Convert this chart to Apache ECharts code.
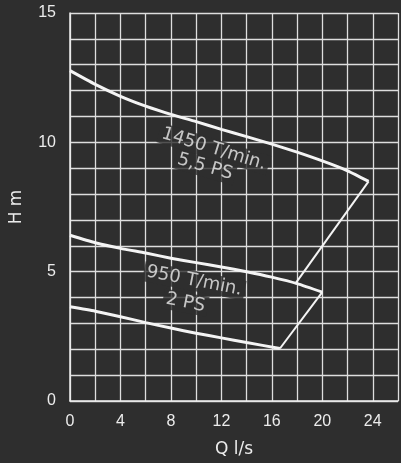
<!DOCTYPE html>
<html>
<head>
<meta charset="utf-8">
<script src="https://cdn.jsdelivr.net/npm/echarts@6/dist/echarts.min.js"></script>
<style>
html,body{margin:0;padding:0;background:#2e2e2e;}
#c{width:401px;height:463px;}
</style>
</head>
<body>
<div id="c"></div>
<script>
// Pump curves (Q in l/s, H in m)
const q1450 = [0, 2, 4, 6, 8, 10, 12, 14, 16, 18, 20, 22, 23.67];
const h1450 = [12.77, 12.24, 11.78, 11.40, 11.08, 10.80, 10.50, 10.22, 9.93, 9.62, 9.28, 8.90, 8.49];
const q950 = [0, 2, 4, 6, 8, 10, 12, 14, 16, 18, 20];
const h950 = [6.41, 6.12, 5.90, 5.72, 5.52, 5.35, 5.18, 5.00, 4.79, 4.54, 4.21];
const qLow = [0, 2, 4, 6, 8, 10, 12, 14, 16.64];
const hLow = [3.64, 3.47, 3.26, 3.03, 2.82, 2.62, 2.44, 2.26, 2.03];
// Limit lines connecting curve ends
const limitA_Q = [23.67, 17.85];
const limitA_H = [8.49, 4.53];
const limitB_Q = [20.0, 16.64];
const limitB_H = [4.21, 2.03];
// Curve labels
const labelTexts = ['1450 T/min.', '5,5 PS', '950 T/min.', '2 PS'];
const labelQ = [11.4, 10.7, 9.85, 9.15];
const labelH = [9.74, 9.05, 4.64, 3.80];
const labelRot = [-17, -16, -11, -11];
// Axis ticks
const xTickLabels = [0, 4, 8, 12, 16, 20, 24];
const yTickLabels = [0, 5, 10, 15];

const zip = (a, b) => a.map((v, i) => [v, b[i]]);
const fg = '#ececec';
const chart = echarts.init(document.getElementById('c'), null, {renderer: 'canvas'});
chart.setOption({
  backgroundColor: '#2e2e2e',
  animation: false,
  grid: {left: 67, top: 13, width: 336, height: 391},
  xAxis: {
    type: 'value', min: 0, max: 26, interval: 2,
    name: 'Q l/s', nameLocation: 'middle', nameGap: 40,
    nameTextStyle: {color: fg, fontFamily: 'DejaVu Sans', fontSize: 17},
    axisLine: {show: true, lineStyle: {color: fg, width: 1.5}},
    axisTick: {show: false},
    axisLabel: {color: fg, fontFamily: 'Liberation Sans', fontSize: 16, margin: 13,
      formatter: v => xTickLabels.includes(v) ? String(v) : ''},
    splitLine: {show: true, lineStyle: {color: '#dedede', width: 1.3}}
  },
  yAxis: {
    type: 'value', min: 0, max: 15, interval: 1,
    name: 'H m', nameLocation: 'middle', nameGap: 45, nameRotate: 90,
    nameTextStyle: {color: fg, fontFamily: 'DejaVu Sans', fontSize: 17},
    axisLine: {show: true, lineStyle: {color: fg, width: 1.5}},
    axisTick: {show: false},
    axisLabel: {color: fg, fontFamily: 'Liberation Sans', fontSize: 16, margin: 14,
      formatter: v => yTickLabels.includes(v) ? String(v) : ''},
    splitLine: {show: true, lineStyle: {color: '#dedede', width: 1.3}}
  },
  series: [
    {type: 'scatter', z: 3, symbolSize: 0, silent: true,
      data: labelTexts.map((t, i) => ({value: [labelQ[i], labelH[i]], name: t,
        label: {rotate: labelRot[i]}})),
      label: {show: true, position: 'inside', formatter: p => p.name,
        color: fg, fontFamily: 'DejaVu Sans', fontSize: 18,
        backgroundColor: '#2e2e2e', padding: [1, 3]}},
    {type: 'line', z: 5, data: zip(q1450, h1450), smooth: 0.2, showSymbol: false, symbol: 'none',
      lineStyle: {color: '#f4f4f4', width: 3}},
    {type: 'line', z: 5, data: zip(q950, h950), smooth: 0.2, showSymbol: false, symbol: 'none',
      lineStyle: {color: '#f4f4f4', width: 3}},
    {type: 'line', z: 5, data: zip(qLow, hLow), smooth: 0.2, showSymbol: false, symbol: 'none',
      lineStyle: {color: '#f4f4f4', width: 3}},
    {type: 'line', z: 5, data: zip(limitA_Q, limitA_H), showSymbol: false, symbol: 'none',
      lineStyle: {color: '#f4f4f4', width: 2}},
    {type: 'line', z: 5, data: zip(limitB_Q, limitB_H), showSymbol: false, symbol: 'none',
      lineStyle: {color: '#f4f4f4', width: 2}}
  ]
});
</script>
</body>
</html>
